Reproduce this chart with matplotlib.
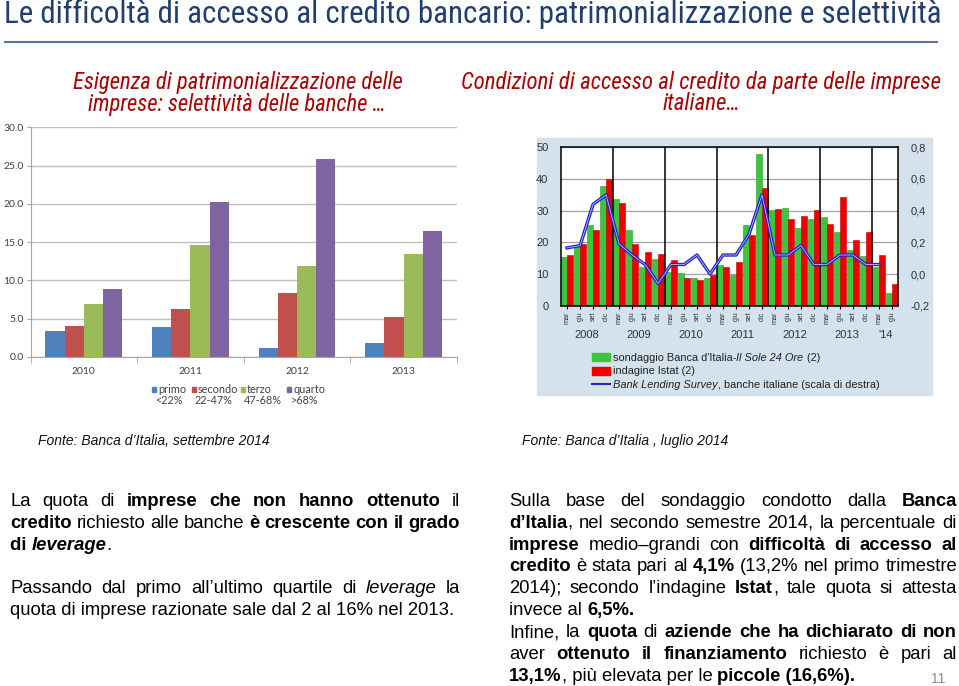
import numpy as np
import matplotlib
matplotlib.use("Agg")
import matplotlib.pyplot as plt
from matplotlib import font_manager
from matplotlib.patches import Rectangle
from matplotlib.lines import Line2D

W, H, DPI = 959, 686, 100

# left chart: quota di imprese razionate per quartile di leverage
anni_sx = ["2010", "2011", "2012", "2013"]
quartili = ["primo", "secondo", "terzo", "quarto"]
soglie = ["<22%", "22-47%", "47-68%", ">68%"]
primo = [3.4, 3.9, 1.2, 1.8]
secondo = [4.0, 6.3, 8.4, 5.2]
terzo = [6.9, 14.6, 11.9, 13.4]
quarto = [8.9, 20.3, 25.9, 16.4]

# right chart: condizioni di accesso al credito (trimestrale 2008-2014)
trimestri = ["mar", "giu", "set", "dic"] * 6 + ["mar", "giu"]
anni_dx = ["2008", "2009", "2010", "2011", "2012", "2013", "'14"]
sondaggio = [15.4, 19.2, 25.4, 37.9, 33.8, 23.9, 12.2, 14.8,
             10.5, 10.4, 8.8, 8.8, 12.9, 9.6, 25.4, 47.9,
             30.2, 30.8, 24.4, 27.5, 27.9, 23.2, 17.7, 15.7,
             12.3, 4.0]
istat = [16.1, 19.6, 23.9, 40.1, 32.5, 19.6, 16.9, 16.2,
         14.5, 8.8, 8.1, 9.8, 12.2, 13.7, 22.2, 37.2,
         30.6, 27.3, 28.3, 30.2, 25.9, 34.2, 20.7, 23.2,
         16.1, 6.7]
bls = [0.165, 0.18, 0.44, 0.50, 0.19, 0.12, 0.06, -0.06,
       0.06, 0.06, 0.12, 0.0, 0.12, 0.12, 0.25, 0.50,
       0.12, 0.12, 0.18, 0.06, 0.06, 0.12, 0.12, 0.06,
       0.06]

fig = plt.figure(figsize=(W / DPI, H / DPI), dpi=DPI)
fig.patch.set_facecolor("white")
rend = fig.canvas.get_renderer()

# pick a condensed face if one is installed, otherwise plain Liberation Sans
narrow = dict(family="Liberation Sans")
for f in font_manager.fontManager.ttflist:
    if f.name in ("Liberation Sans Narrow", "Roboto Condensed", "Open Sans Condensed"):
        narrow = dict(family=f.name)
        break
    if f.name == "DejaVu Sans" and f.stretch in ("condensed", 300):
        narrow = dict(family="DejaVu Sans", stretch="condensed")


def fx(x):
    return x / W


def fy(y):
    return 1 - y / H


def fit_text(x, y, s, target_w, size=None, **kw):
    t = fig.text(fx(x), fy(y), s, fontsize=10, **kw)
    if size is None:
        size = 10 * target_w / t.get_window_extent(rend).width
    t.set_fontsize(size)
    return size


def style_kw(st, size, family, color):
    return dict(fontsize=size, family=family, color=color,
                fontweight="bold" if "b" in st else "normal",
                fontstyle="italic" if "i" in st else "normal")


def advance(s, kw):
    # advance width in pixels, measured against a reference glyph
    a = fig.text(0, 0, s + "|", **kw)
    b = fig.text(0, 0, "|", **kw)
    w = a.get_window_extent(rend).width - b.get_window_extent(rend).width
    a.remove()
    b.remove()
    return w


def words_of(runs):
    words, cur = [], []
    for txt, st in runs:
        for k, part in enumerate(txt.split(" ")):
            if k > 0 and cur:
                words.append(cur)
                cur = []
            if part:
                cur.append((part, st))
    if cur:
        words.append(cur)
    return words


def put_line(runs, x0, base, width=None, size=13.3, color="black",
             family="Liberation Sans"):
    if width is None:
        x = x0
        for txt, st in runs:
            kw = style_kw(st, size, family, color)
            fig.text(fx(x), fy(base), txt, va="baseline", ha="left", **kw)
            x += advance(txt, kw)
        return
    placed = []
    for word in words_of(runs):
        pieces, tot = [], 0
        for txt, st in word:
            kw = style_kw(st, size, family, color)
            t = fig.text(0, fy(base), txt, va="baseline", ha="left", **kw)
            w = advance(txt, kw)
            pieces.append((t, w))
            tot += w
        placed.append((pieces, tot))
    gap = (width - sum(p[1] for p in placed)) / (len(placed) - 1)
    x = x0
    for pieces, tot in placed:
        for t, w in pieces:
            t.set_x(fx(x))
            x += w
        x += gap


# ---- title
fit_text(473, 14, "Le difficoltà di accesso al credito bancario: patrimonializzazione e selettività",
         930, color="#1F3F6E", ha="center", va="center", **narrow)
fig.add_artist(Line2D([fx(5), fx(937)], [fy(42), fy(42)], color="#5B7394", lw=1.5))

red_t = "#B00000"
sub = dict(style="italic", color=red_t, ha="center", va="center", **narrow)
s1 = fit_text(238, 82, "Esigenza di patrimonializzazione delle", 331, **sub)
fit_text(237, 104, "imprese: selettività delle banche …", 0, size=s1, **sub)
s2 = fit_text(701, 82, "Condizioni di accesso al credito da parte delle imprese", 478, **sub)
fit_text(701, 104, "italiane…", 0, size=s2, **sub)

# ---- left chart
colsL = ["#4F81BD", "#C0504D", "#9BBB59", "#8064A2"]
gray_t = "#404040"
axL = fig.add_axes([fx(30.5), fy(357), (457 - 30.5) / W, (357 - 127.3) / H])
xg = np.arange(len(anni_sx))
for k, (vals, col) in enumerate(zip([primo, secondo, terzo, quarto], colsL)):
    axL.bar(xg + (k - 1.5) * 0.18, vals, 0.18, color=col, zorder=3)
axL.set_xlim(-0.5, 3.5)
axL.set_ylim(0, 30)
axL.set_yticks(np.arange(0, 31, 5))
axL.set_yticklabels([f"{v:.1f}" for v in np.arange(0, 31, 5)])
axL.set_xticks(xg)
axL.set_xticklabels(anni_sx)
axL.set_xticks([-0.5, 0.5, 1.5, 2.5, 3.5], minor=True)
axL.tick_params(axis="x", which="major", length=0, pad=7)
axL.tick_params(axis="x", which="minor", length=4, color="#A6A6A6")
axL.tick_params(axis="y", length=3, color="#A6A6A6", pad=2)
axL.grid(axis="y", color="#BFBFBF", lw=1, zorder=0)
for s in ["top", "right"]:
    axL.spines[s].set_visible(False)
for s in ["left", "bottom"]:
    axL.spines[s].set_color("#A6A6A6")
for lab in axL.get_xticklabels() + axL.get_yticklabels():
    lab.set_family("Lato")
    lab.set_fontsize(7.5)
    lab.set_color(gray_t)

leg_sq = [151.7, 191.7, 240.7, 287]
leg_tx = [158, 198, 247, 293]
leg_c2 = [168.5, 213.5, 263, 304.5]
for q, s, c, xs, xt, xc in zip(quartili, soglie, colsL, leg_sq, leg_tx, leg_c2):
    fig.add_artist(Rectangle((fx(xs), fy(391.5)), 4.2 / W, 4.2 / H, color=c,
                             transform=fig.transFigure))
    fig.text(fx(xt), fy(389.3), q, family="Lato", fontsize=7.8, color=gray_t, va="center")
    fig.text(fx(xc), fy(401), s, family="Lato", fontsize=7.8, color=gray_t,
             va="center", ha="center")

# ---- right chart
bg = Rectangle((fx(537), fy(395)), (932 - 537) / W, (395 - 137.7) / H,
               color="#D3E2EC", transform=fig.transFigure, zorder=-1)
fig.add_artist(bg)
axR = fig.add_axes([fx(561), fy(305.7), (898 - 561) / W, (305.7 - 147.3) / H])
axR.set_facecolor("white")
idx = np.arange(len(trimestri))
axR.bar(idx - 0.225, sondaggio, 0.43, color="#3CC43C", edgecolor="#2E9A2E", lw=0.4, zorder=3)
axR.bar(idx + 0.225, istat, 0.43, color="#F00000", edgecolor="#C00000", lw=0.4, zorder=3)
axR.set_xlim(-0.47, 25.47)
axR.set_ylim(0, 50)
axR.set_yticks(np.arange(0, 51, 10))
axR.grid(axis="y", color="#A0A0A0", lw=0.9, zorder=0)
for b in [3.5, 7.5, 11.5, 15.5, 19.5, 23.5]:
    axR.axvline(b, color="black", lw=1.1, zorder=4)
for s in axR.spines.values():
    s.set_color("black")
    s.set_linewidth(1.1)
    s.set_zorder(5)
axR.set_xticks(idx)
axR.set_xticklabels(trimestri, rotation=90, fontsize=5.2, family="Liberation Sans", color="#333333")
axR.tick_params(axis="x", length=2, pad=2)
axR.tick_params(axis="y", length=0, pad=9, labelsize=8, labelcolor="#333333")
for lab in axR.get_yticklabels():
    lab.set_family("Liberation Sans")
for k, a in enumerate(anni_dx):
    xc = 4 * k + 1.5 if k < 6 else 24.5
    axR.text(xc, -0.185, a, transform=axR.get_xaxis_transform(), ha="center", va="center",
             fontsize=8, family="Liberation Sans", color="#333333")

axR2 = axR.twinx()
axR2.set_ylim(-0.2, 0.8)
axR2.set_yticks(np.arange(-0.2, 0.81, 0.2))
axR2.set_yticklabels([f"{v:.1f}".replace(".", ",").replace("-0,0", "0,0") for v in np.arange(-0.2, 0.81, 0.2)])
axR2.tick_params(axis="y", length=0, pad=9, labelsize=8, labelcolor="#333333")
for lab in axR2.get_yticklabels():
    lab.set_family("Liberation Sans")
axR2.plot(idx[:len(bls)], bls, color="#2323C8", lw=2.4, zorder=6)
axR2.plot(idx[:len(bls)], bls, color="#B8B8FF", lw=0.6, zorder=7)
for s in axR2.spines.values():
    s.set_visible(False)

# legend of right chart
fig.add_artist(Rectangle((fx(592), fy(361)), 18 / W, 8 / H, color="#3CC43C",
                         transform=fig.transFigure))
fig.add_artist(Rectangle((fx(592), fy(374.5)), 18 / W, 8 / H, color="#F00000",
                         transform=fig.transFigure))
fig.add_artist(Line2D([fx(592), fx(610)], [fy(384), fy(384)], color="#2323C8", lw=1.5))
put_line([("sondaggio Banca d'Italia-", "n"), ("Il Sole 24 Ore", "i"), (" (2)", "n")],
         613, 361, size=7.9, color="#222222")
put_line([("indagine Istat (2)", "n")], 613, 374.5, size=7.9, color="#222222")
put_line([("Bank Lending Survey", "i"), (", banche italiane (scala di destra)", "n")],
         613, 388, size=7.9, color="#222222")

# ---- sources
put_line([("Fonte: Banca d’Italia, settembre 2014", "i")], 38, 445, size=10, color="#111111")
put_line([("Fonte: Banca d’Italia , luglio 2014", "i")], 522, 445, size=10, color="#111111")

# ---- body text
left_lines = [
    ([("La quota di ", "n"), ("imprese che non hanno ottenuto", "b"), (" il", "n")], 506, True),
    ([("credito", "b"), (" richiesto alle banche ", "n"), ("è crescente con il grado", "b")], 528, True),
    ([("di ", "b"), ("leverage", "bi"), (".", "n")], 550, False),
    ([("Passando dal primo all’ultimo quartile di ", "n"), ("leverage", "i"), (" la", "n")], 593, True),
    ([("quota di imprese razionate sale dal 2 al 16% nel 2013.", "n")], 615, False),
]
for runs, base, just in left_lines:
    put_line(runs, 10, base, width=450 if just else None)

right_lines = [
    ([("Sulla base del sondaggio condotto dalla ", "n"), ("Banca", "b")], True),
    ([("d’Italia", "b"), (", nel secondo semestre 2014, la percentuale di", "n")], True),
    ([("imprese", "b"), (" medio–grandi con ", "n"), ("difficoltà di accesso al", "b")], True),
    ([("credito", "b"), (" è stata pari al ", "n"), ("4,1%", "b"), (" (13,2% nel primo trimestre", "n")], True),
    ([("2014); secondo l’indagine ", "n"), ("Istat", "b"), (", tale quota si attesta", "n")], True),
    ([("invece al ", "n"), ("6,5%.", "b")], False),
    ([("Infine, la ", "n"), ("quota", "b"), (" di ", "n"), ("aziende che ha dichiarato di non", "b")], True),
    ([("aver ", "n"), ("ottenuto il finanziamento", "b"), (" richiesto è pari al", "n")], True),
    ([("13,1%", "b"), (", più elevata per le ", "n"), ("piccole (16,6%).", "b")], False),
]
for k, (runs, just) in enumerate(right_lines):
    put_line(runs, 509, 505.7 + 21.9 * k, width=448 if just else None)

fig.text(fx(938), fy(683), "11", family="Liberation Sans", fontsize=10, color="#8C8C8C",
         ha="center", va="baseline")

fig.savefig("out.png", dpi=DPI)
